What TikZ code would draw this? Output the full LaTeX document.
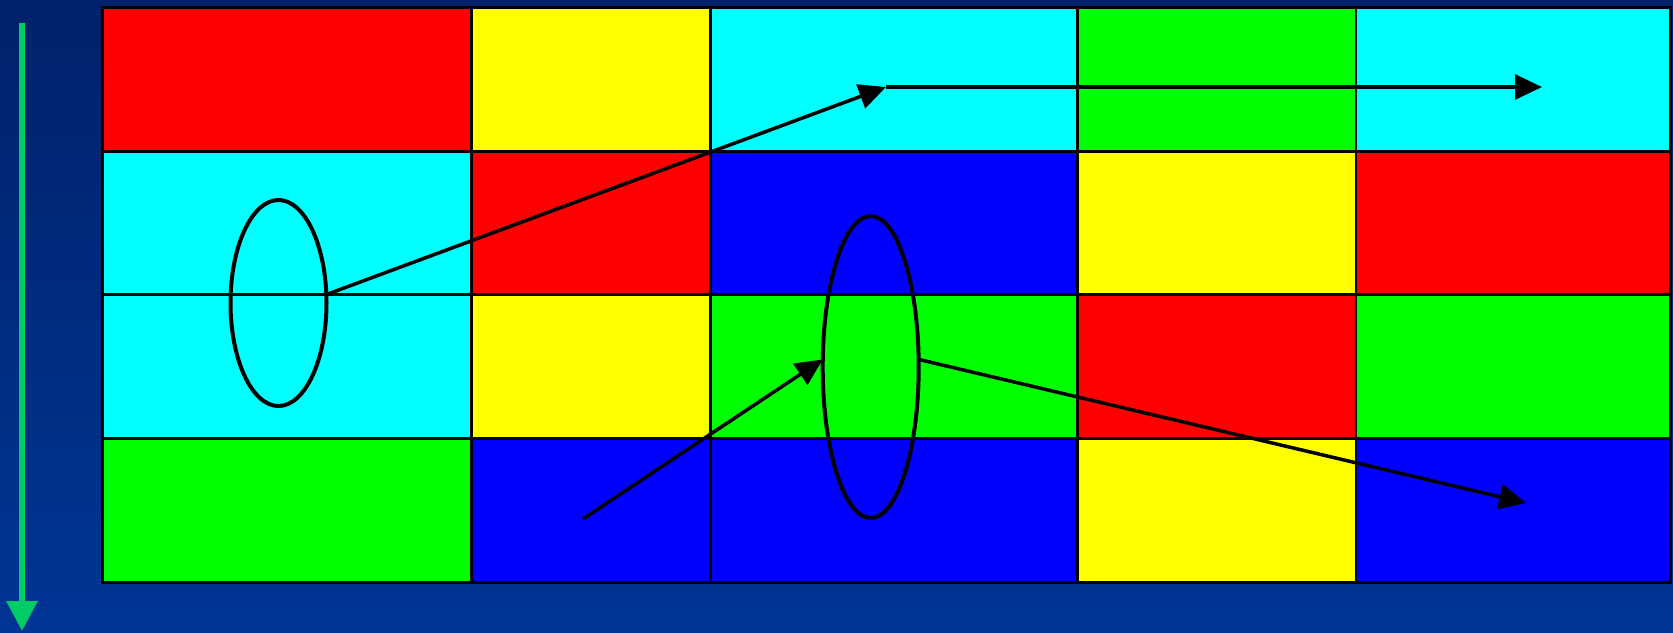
\documentclass[tikz,border=0pt]{standalone}
\usetikzlibrary{arrows.meta,shapes.geometric}
\definecolor{bgtop}{HTML}{00226A}
\definecolor{bgbot}{HTML}{003596}
\definecolor{cR}{HTML}{FF0000}
\definecolor{cY}{HTML}{FFFF00}
\definecolor{cC}{HTML}{00FFFF}
\definecolor{cG}{HTML}{00FF00}
\definecolor{cB}{HTML}{0000FF}
\definecolor{garrow}{HTML}{00CC66}
\tikzset{
  gridline/.style={draw=black,line width=2.5pt},
  ring/.style={draw=black,line width=4pt,ellipse,inner sep=0pt,outer sep=0pt},
  ray/.style={draw=black,line width=3.5pt,-{Triangle[length=27pt,width=25pt]}},
}
\begin{document}
\begin{tikzpicture}[x=1pt,y=-1pt]
\useasboundingbox (0,0) rectangle (1673,632);
\shade[top color=bgtop,bottom color=bgbot] (0,0) rectangle (1673,632);
% grid
\def\xs{{102,471.6,710.6,1077.6,1356.2,1670}}
\def\ys{{7.5,151.5,294.5,438.5,582.6}}
\foreach \r/\cols in {0/{cR,cY,cC,cG,cC},1/{cC,cR,cB,cY,cR},2/{cC,cY,cG,cR,cG},3/{cG,cB,cB,cY,cB}}{
  \foreach \c [count=\i from 0] in \cols {
    \pgfmathsetmacro{\xa}{\xs[\i]}
    \pgfmathsetmacro{\xb}{\xs[\i+1]}
    \pgfmathsetmacro{\ya}{\ys[\r]}
    \pgfmathsetmacro{\yb}{\ys[\r+1]}
    \fill[\c] (\xa,\ya) rectangle (\xb,\yb);
  }
}
\foreach \x in {471.6,710.6,1077.6,1356.2}{\draw[gridline] (\x,7.5) -- (\x,582.6);}
\foreach \y in {151.5,294.5,438.5}{\draw[gridline] (102,\y) -- (1670,\y);}
\draw[gridline,line width=3pt] (102,7.5) rectangle (1670,582.6);
% green arrow
\coordinate (gtop) at (22,23);
\coordinate (gbot) at (22,631);
\draw[garrow,line width=6pt,-{Triangle[length=30pt,width=30pt]}] (gtop) -- (gbot);
% ellipses
\node[ring,minimum width=96pt,minimum height=206pt] (e1) at (278.5,303) {};
\node[ring,minimum width=96pt,minimum height=302pt] (e2) at (870.7,367) {};
% arrows
\coordinate (k1) at (886,87);
\coordinate (k2) at (1542,87);
\coordinate (s2) at (583,519);
\coordinate (t3) at (1526,503);
\draw[ray] (e1.10) -- (k1);
\draw[ray] (k1) -- (k2);
\draw[ray] (s2) -- (e2.171);
\draw[ray] (e2.9) -- (t3);
\end{tikzpicture}
\end{document}
